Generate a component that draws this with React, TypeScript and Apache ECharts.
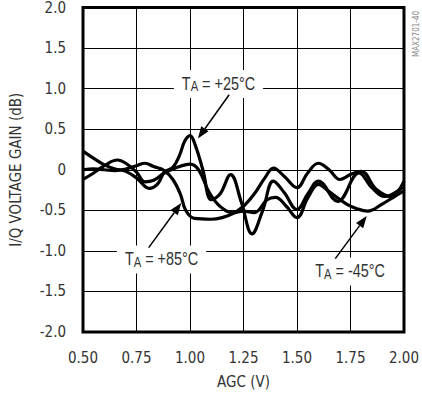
import React, { useEffect, useRef } from "react";
import * as echarts from "echarts";

// +25°C curve
const agc25 = [0.5, 0.55, 0.6, 0.65, 0.7, 0.75, 0.81, 0.85, 0.88, 0.92, 0.95, 0.975, 1.0, 1.025, 1.06, 1.1, 1.14, 1.19, 1.24, 1.29, 1.34, 1.39, 1.44, 1.5, 1.55, 1.6, 1.69, 1.79, 1.85, 1.91, 2.0];
const gain25 = [0.23, 0.14, 0.06, 0.01, -0.02, -0.1, -0.23, -0.17, -0.03, 0.03, 0.17, 0.35, 0.42, 0.3, 0.0, -0.37, -0.3, -0.06, -0.4, -0.79, -0.5, -0.14, -0.28, -0.49, -0.3, -0.14, -0.39, -0.04, -0.22, -0.33, -0.2];

// -45°C curve
const agcM45 = [0.5, 0.55, 0.6, 0.66, 0.7, 0.75, 0.79, 0.83, 0.88, 0.93, 1.0, 1.04, 1.09, 1.14, 1.2, 1.25, 1.3, 1.36, 1.4, 1.45, 1.5, 1.55, 1.6, 1.65, 1.73, 1.78, 1.83, 1.9, 1.95, 2.0];
const gainM45 = [-0.12, -0.04, 0.05, 0.12, 0.08, -0.03, -0.15, -0.13, -0.04, 0.02, 0.07, 0.0, -0.28, -0.45, -0.53, -0.51, -0.53, -0.37, -0.34, -0.45, -0.59, -0.35, -0.18, -0.27, -0.42, -0.48, -0.51, -0.42, -0.34, -0.26];

// +85°C curve
const agc85 = [0.5, 0.55, 0.6, 0.65, 0.7, 0.75, 0.79, 0.83, 0.88, 0.92, 0.955, 0.98, 1.02, 1.1, 1.15, 1.2, 1.25, 1.3, 1.35, 1.39, 1.44, 1.5, 1.55, 1.6, 1.65, 1.7, 1.75, 1.8, 1.87, 1.94, 2.0];
const gain85 = [0.0, 0.01, 0.0, -0.01, 0.01, 0.05, 0.08, 0.04, -0.01, -0.12, -0.3, -0.5, -0.6, -0.61, -0.59, -0.54, -0.45, -0.3, -0.1, 0.02, -0.08, -0.22, -0.04, 0.08, 0.0, -0.12, -0.06, -0.02, -0.24, -0.33, -0.14];

// annotations: label centre, arrow tail, arrow tip (data coordinates)
const labelNames = ["+25°C", "+85°C", "-45°C"];
const labelPos = [[1.133, 1.058], [0.867, -1.107], [1.748, -1.254]];
const arrowTail = [[1.183, 0.924], [0.807, -0.96], [1.679, -1.095]];
const arrowTip = [[1.037, 0.385], [0.959, -0.41], [1.826, -0.57]];

const FONT = '"DejaVu Sans Condensed", "Liberation Sans", sans-serif';
const ANNOT_FONT = '"Liberation Sans", Arial, sans-serif';

export default function App() {
  const ref = useRef<HTMLDivElement>(null);
  useEffect(() => {
    document.body.style.margin = "0";
    const chart = echarts.init(ref.current!, null, { renderer: "svg" });
    const lineSeries = (xs: number[], ys: number[]) => ({
      type: "line",
      data: xs.map((x, i) => [x, ys[i]]),
      smooth: 0.4,
      symbol: "none",
      lineStyle: { color: "#000", width: 3.2 },
      z: 3,
    });
    chart.setOption({
      animation: false,
      grid: { left: 83, right: 12, top: 5, bottom: 64, show: true, borderColor: "#000", borderWidth: 3, z: 4 },
      xAxis: {
        type: "value",
        min: 0.5,
        max: 2.0,
        interval: 0.25,
        axisLine: { show: false },
        axisTick: { show: false },
        splitLine: { lineStyle: { color: "#000", width: 1 } },
        axisLabel: { formatter: (v: number) => v.toFixed(2), color: "#333", fontSize: 15, fontFamily: FONT, margin: 18 },
        name: "AGC (V)",
        nameLocation: "middle",
        nameGap: 42,
        nameTextStyle: { color: "#333", fontSize: 15, fontFamily: FONT },
      },
      yAxis: {
        type: "value",
        min: -2,
        max: 2,
        interval: 0.5,
        axisLine: { show: false },
        axisTick: { show: false },
        splitLine: { lineStyle: { color: "#000", width: 1 } },
        axisLabel: { formatter: (v: number) => (v === 0 ? "0" : v.toFixed(1)), color: "#333", fontSize: 15, fontFamily: FONT, margin: 17 },
        name: "I/Q VOLTAGE GAIN (dB)",
        nameLocation: "middle",
        nameGap: 60,
        nameTextStyle: { color: "#333", fontSize: 15, fontFamily: FONT },
      },
      series: [lineSeries(agc25, gain25), lineSeries(agcM45, gainM45), lineSeries(agc85, gain85)],
    });

    const px = (p: number[]) => chart.convertToPixel({ gridIndex: 0 }, p) as number[];
    const elements: any[] = [];
    labelNames.forEach((name, i) => {
      const c = px(labelPos[i]);
      elements.push({
        type: "text",
        x: c[0],
        y: c[1],
        scaleX: 0.8,
        z: 10,
        style: {
          text: "{n|T}{s|A}{n| = " + name + "}",
          align: "center",
          verticalAlign: "middle",
          backgroundColor: "#fff",
          padding: [4, 10, 4, 10],
          rich: {
            n: { fontSize: 18, fontFamily: ANNOT_FONT, fill: "#333", lineHeight: 20, verticalAlign: "top" },
            s: { fontSize: 14, fontFamily: ANNOT_FONT, fill: "#333", lineHeight: 14, padding: [8, 0, 0, 0], verticalAlign: "bottom" },
          },
        },
      });
      const t = px(arrowTip[i]);
      const a = px(arrowTail[i]);
      const dx = t[0] - a[0];
      const dy = t[1] - a[1];
      const len = Math.sqrt(dx * dx + dy * dy);
      const ux = dx / len;
      const uy = dy / len;
      const L = 12;
      const w = 4.5;
      const bx = t[0] - ux * L;
      const by = t[1] - uy * L;
      elements.push({
        type: "line",
        z: 10,
        shape: { x1: a[0], y1: a[1], x2: bx, y2: by },
        style: { stroke: "#000", lineWidth: 1.5 },
      });
      elements.push({
        type: "polygon",
        z: 10,
        shape: { points: [[t[0], t[1]], [bx - uy * w, by + ux * w], [bx + uy * w, by - ux * w]] },
        style: { fill: "#000" },
      });
    });
    elements.push({
      type: "text",
      x: 416.5,
      y: 34,
      rotation: Math.PI / 2,
      z: 10,
      style: { text: "MAX2701-40", align: "center", verticalAlign: "middle", fontSize: 8, fontFamily: FONT, fill: "#888" },
    });
    chart.setOption({ graphic: { elements } });
    return () => chart.dispose();
  }, []);
  return <div ref={ref} style={{ width: 422, height: 396 }} />;
}
